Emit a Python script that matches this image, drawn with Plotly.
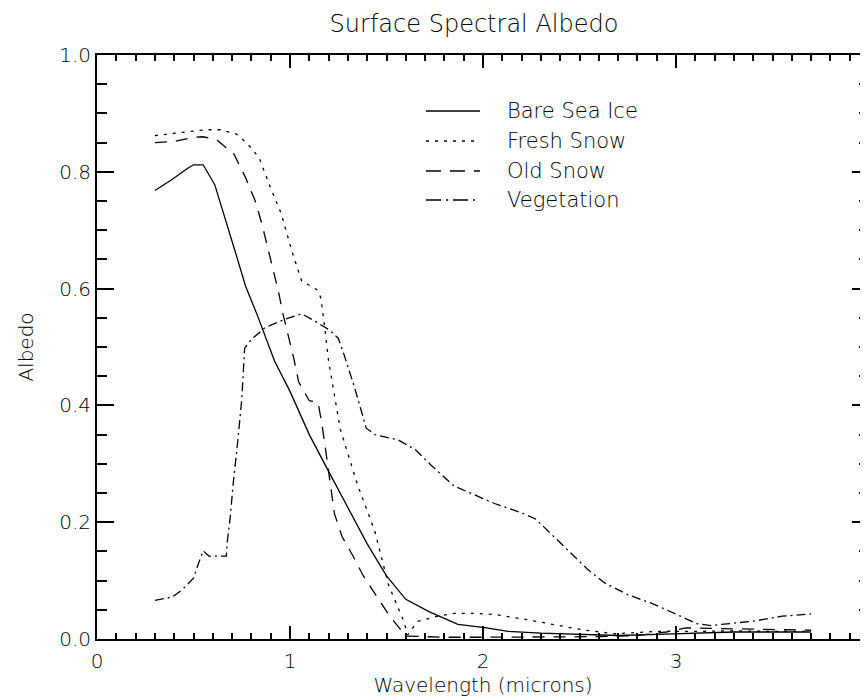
import plotly.graph_objects as go

# ---- data ----
wl_ice = [0.30, 0.385, 0.47, 0.50, 0.55, 0.61, 0.71, 0.77, 0.83, 0.87, 0.92, 1.00, 1.10, 1.20, 1.30,
          1.40, 1.50, 1.60, 1.72, 1.87, 2.00, 2.13, 2.30, 2.50, 2.70, 2.90, 3.10, 3.30, 3.50, 3.70]
alb_ice = [0.768, 0.786, 0.806, 0.812, 0.812, 0.778, 0.670, 0.604, 0.555, 0.521, 0.476, 0.424, 0.350,
           0.287, 0.224, 0.163, 0.108, 0.068, 0.047, 0.025, 0.020, 0.013, 0.010, 0.008, 0.006,
           0.008, 0.010, 0.012, 0.012, 0.012]

wl_fresh = [0.30, 0.385, 0.47, 0.56, 0.64, 0.72, 0.78, 0.84, 0.90, 0.955, 1.01, 1.06, 1.14, 1.16,
            1.18, 1.20, 1.23, 1.26, 1.35, 1.44, 1.51, 1.59, 1.61, 1.66, 1.75, 1.85, 1.95, 2.06,
            2.23, 2.41, 2.51, 2.68, 2.90, 3.10, 3.30, 3.50, 3.70]
alb_fresh = [0.862, 0.865, 0.869, 0.872, 0.872, 0.865, 0.848, 0.824, 0.772, 0.728, 0.664, 0.613,
             0.598, 0.584, 0.533, 0.476, 0.418, 0.360, 0.264, 0.184, 0.093, 0.030, 0.007, 0.030,
             0.038, 0.044, 0.044, 0.042, 0.033, 0.022, 0.016, 0.009, 0.013, 0.013, 0.014, 0.013,
             0.013]

wl_old = [0.30, 0.40, 0.50, 0.55, 0.62, 0.71, 0.77, 0.82, 0.855, 0.885, 0.91, 0.94, 0.964, 0.995,
          1.02, 1.045, 1.10, 1.145, 1.162, 1.18, 1.214, 1.23, 1.27, 1.325, 1.38, 1.45, 1.515,
          1.60, 1.80, 2.00, 2.20, 2.40, 2.60, 2.80, 2.95, 3.05, 3.20, 3.40, 3.55, 3.70]
alb_old = [0.850, 0.852, 0.859, 0.860, 0.855, 0.830, 0.790, 0.750, 0.710, 0.670, 0.640, 0.595,
           0.556, 0.515, 0.480, 0.440, 0.408, 0.405, 0.375, 0.335, 0.255, 0.215, 0.175, 0.143,
           0.108, 0.073, 0.040, 0.005, 0.003, 0.003, 0.003, 0.003, 0.004, 0.006, 0.012, 0.019,
           0.018, 0.017, 0.015, 0.015]

wl_veg = [0.30, 0.39, 0.44, 0.50, 0.52, 0.55, 0.58, 0.67, 0.675, 0.69, 0.705, 0.72, 0.73, 0.75,
          0.765, 0.80, 0.87, 0.97, 1.06, 1.13, 1.20, 1.25, 1.28, 1.335, 1.395, 1.44, 1.56, 1.65,
          1.73, 1.85, 1.95, 2.06, 2.20, 2.27, 2.34, 2.44, 2.54, 2.63, 2.75, 2.89, 3.00, 3.11,
          3.18, 3.30, 3.41, 3.55, 3.70]
alb_veg = [0.066, 0.072, 0.084, 0.104, 0.124, 0.151, 0.142, 0.142, 0.167, 0.207, 0.264, 0.307,
           0.341, 0.410, 0.498, 0.513, 0.533, 0.547, 0.557, 0.544, 0.530, 0.515, 0.487, 0.430,
           0.361, 0.350, 0.341, 0.324, 0.298, 0.262, 0.248, 0.232, 0.216, 0.206, 0.184, 0.152,
           0.120, 0.096, 0.076, 0.059, 0.043, 0.026, 0.023, 0.027, 0.031, 0.039, 0.043]

series_names = ["Bare Sea Ice", "Fresh Snow", "Old Snow", "Vegetation"]
x_ticks = [0, 1, 2, 3, 4]
y_ticks = [0.0, 0.2, 0.4, 0.6, 0.8, 1.0]

FONT = "DejaVu Sans"
WEIGHT = 200

# plot-area geometry in pixels (used only to place the hand-drawn legend)
W, H = 868, 696
ML, MR, MT, MB = 89, 7, 47, 65
PW, PH = W - ML - MR, H - MT - MB


def px_to_paper(px, py):
    return (px - ML) / PW, (H - MB - py) / PH


fig = go.Figure()
plot_dash = ["solid", "3px,6px", "12px,9px", "9px,4px,2px,4px"]
legend_dash = ["solid", "3px,6px", "15px,9px", "15px,5px,2px,5px"]
series_x = [wl_ice, wl_fresh, wl_old, wl_veg]
series_y = [alb_ice, alb_fresh, alb_old, alb_veg]

for name, xs, ys, dash in zip(series_names, series_x, series_y, plot_dash):
    fig.add_trace(go.Scatter(x=xs, y=ys, mode="lines", name=name, showlegend=False,
                             line=dict(color="black", width=1.3, dash=dash)))

# legend drawn as shapes + text (matches the reference's long sample lines)
row_y = [103, 133, 163, 192]
for name, dash, ry in zip(series_names, legend_dash, row_y):
    x0, y0 = px_to_paper(418, ry)
    x1, _ = px_to_paper(472, ry)
    fig.add_shape(type="line", xref="paper", yref="paper", x0=x0, x1=x1, y0=y0, y1=y0,
                  line=dict(color="black", width=1.3, dash=dash))
    tx, _ = px_to_paper(497, ry)
    fig.add_annotation(text=name, xref="paper", yref="paper", x=tx, y=y0,
                       xanchor="left", yanchor="middle", showarrow=False,
                       font=dict(family=FONT, size=21, color="black", weight=WEIGHT))

axis_common = dict(showline=True, linecolor="black", linewidth=2, mirror="ticks",
                   ticks="inside", tickcolor="black", tickwidth=1.5,
                   showgrid=False, zeroline=False, automargin=False,
                   tickfont=dict(family=FONT, size=20, color="black", weight=WEIGHT))

fig.update_layout(
    width=W, height=H,
    plot_bgcolor="white", paper_bgcolor="white",
    margin=dict(l=ML, r=MR, t=MT, b=MB, autoexpand=False),
    title=dict(text="Surface Spectral Albedo", x=466 / W, xanchor="center",
               y=1 - 16 / H, yanchor="middle", yref="container",
               font=dict(family=FONT, size=24, color="black", weight=WEIGHT)),
    xaxis=dict(range=[0, 4], tickvals=x_ticks, ticklen=13, ticklabelstandoff=3,
               minor=dict(ticks="inside", dtick=0.1, ticklen=6, tickcolor="black", tickwidth=1.5),
               title=dict(text="Wavelength (microns)", standoff=6,
                          font=dict(family=FONT, size=20, color="black", weight=WEIGHT)),
               **axis_common),
    yaxis=dict(range=[0, 1], tickvals=y_ticks, tickformat=".1f", ticklen=17,
               minor=dict(ticks="inside", dtick=0.05, ticklen=10, tickcolor="black", tickwidth=1.5),
               title=dict(text="Albedo", standoff=20,
                          font=dict(family=FONT, size=20, color="black", weight=WEIGHT)),
               **axis_common),
    showlegend=False,
)

fig.write_html("out.html")
